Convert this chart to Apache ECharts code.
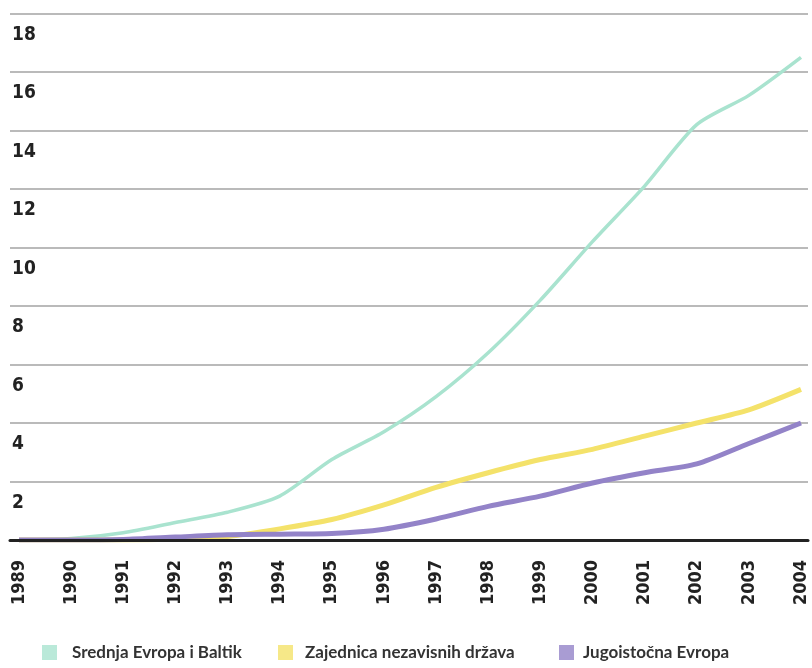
<!DOCTYPE html>
<html>
<head>
<meta charset="utf-8">
<script src="https://cdn.jsdelivr.net/npm/echarts@6/dist/echarts.min.js"></script>
<style>html,body{margin:0;padding:0;background:#fff}#c{width:812px;height:668px}</style>
</head>
<body>
<div id="c"></div>
<script>
var years = ['1989','1990','1991','1992','1993','1994','1995','1996','1997','1998','1999','2000','2001','2002','2003','2004'];
var srednjaEvropa = [0, 0.05, 0.25, 0.6, 0.95, 1.5, 2.75, 3.7, 4.9, 6.4, 8.2, 10.2, 12.1, 14.2, 15.2, 16.5];
var zajednica = [0, 0, 0, 0.03, 0.12, 0.38, 0.7, 1.2, 1.8, 2.3, 2.75, 3.1, 3.55, 4.0, 4.45, 5.15];
var jugoistocna = [0, 0, 0.02, 0.1, 0.18, 0.2, 0.22, 0.37, 0.72, 1.15, 1.5, 1.95, 2.3, 2.6, 3.3, 4.0];
var seriesNames = ['Srednja Evropa i Baltik', 'Zajednica nezavisnih država', 'Jugoistočna Evropa'];
var yTicks = [0, 2, 4, 6, 8, 10, 12, 14, 16, 18];

var colors = ['#a9e3cf', '#f4e26a', '#9383c8'];
var lblFont = 'DejaVu Sans Condensed';
var chart = echarts.init(document.getElementById('c'), null, {renderer: 'canvas'});

function legendFor(i, left, pad) {
  return {
    show: true, left: left, top: 644, orient: 'horizontal', padding: 0,
    icon: 'rect', itemWidth: 15, itemHeight: 15,
    data: [{name: seriesNames[i], itemStyle: {color: colors[i], opacity: 0.8}}],
    textStyle: {fontFamily: 'Lato', fontWeight: 'bold', fontSize: 17, color: '#333', padding: [0, 0, 0, pad]},
    selectedMode: false
  };
}

chart.setOption({
  animation: false,
  backgroundColor: '#fff',
  grid: [
    {left: 19, right: 11, top: 13.5, bottom: 128, containLabel: false, outerBoundsMode: 'none'},
    {left: 10, right: 4, top: 13.5, bottom: 128, containLabel: false, outerBoundsMode: 'none'}
  ],
  legend: [legendFor(0, 42, 10), legendFor(1, 278, 7), legendFor(2, 559, 4)],
  xAxis: [
    {
      type: 'category', gridIndex: 0, data: years, boundaryGap: false,
      axisLine: {show: false}, axisTick: {show: false}, splitLine: {show: false},
      axisLabel: {rotate: 90, margin: 20, interval: 0, hideOverlap: false, fontFamily: lblFont, fontWeight: 'bold', fontSize: 18, color: '#222'}
    },
    {
      type: 'value', gridIndex: 1, min: 0, max: 1, z: 10,
      axisLine: {show: true, onZero: false, lineStyle: {color: '#222', width: 3}},
      axisTick: {show: false}, axisLabel: {show: false}, splitLine: {show: false}
    }
  ],
  yAxis: [
    {
      type: 'value', gridIndex: 0, min: yTicks[0], max: yTicks[yTicks.length - 1], interval: 2,
      axisLine: {show: false}, axisTick: {show: false}, splitLine: {show: false},
      axisLabel: {
        show: true, showMinLabel: true, showMaxLabel: true, hideOverlap: false,
        align: 'left', margin: 7, verticalAlign: 'top',
        fontFamily: lblFont, fontWeight: 'bold', fontSize: 19, lineHeight: 43, color: '#222',
        formatter: function (v) { return v === 0 ? '' : String(v); }
      }
    },
    {
      type: 'value', gridIndex: 1, min: yTicks[0], max: yTicks[yTicks.length - 1], interval: 2,
      axisLine: {show: false}, axisTick: {show: false}, axisLabel: {show: false},
      splitLine: {show: true, lineStyle: {color: '#a3a3a3', width: 1.5}}
    }
  ],
  series: [
    {name: seriesNames[0], type: 'line', data: srednjaEvropa, smooth: 0.25, showSymbol: false, z: 3,
     lineStyle: {color: colors[0], width: 3.5}, itemStyle: {color: colors[0]}},
    {name: seriesNames[1], type: 'line', data: zajednica, smooth: 0.25, showSymbol: false, z: 4,
     lineStyle: {color: colors[1], width: 5}, itemStyle: {color: colors[1]}},
    {name: seriesNames[2], type: 'line', data: jugoistocna, smooth: 0.25, showSymbol: false, z: 5,
     lineStyle: {color: colors[2], width: 5}, itemStyle: {color: colors[2]}}
  ]
});
</script>
</body>
</html>
